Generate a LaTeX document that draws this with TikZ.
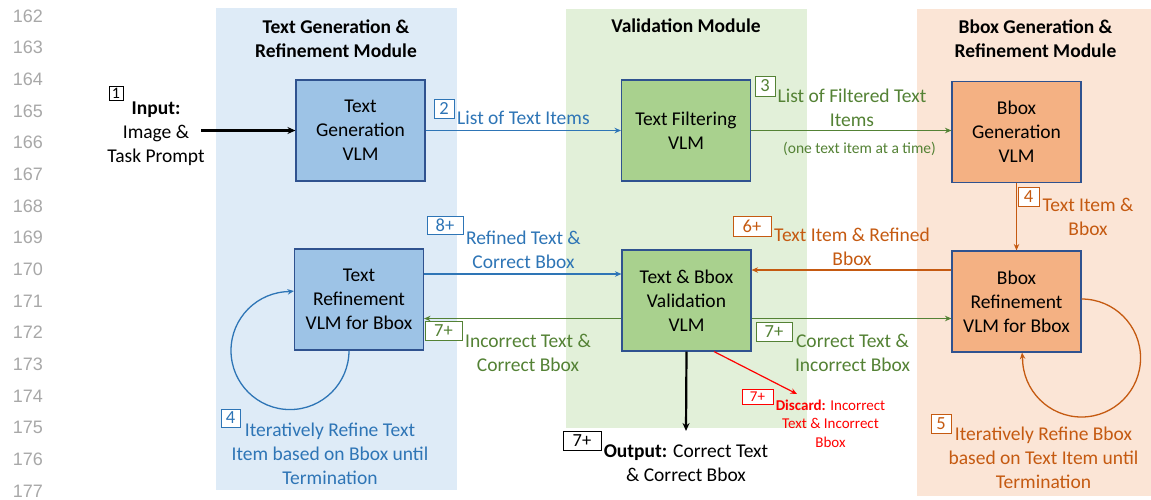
\documentclass[tikz,border=0pt]{standalone}
\usepackage{fontspec}
\setmainfont{Carlito}
\newfontfamily\lnfont{Liberation Sans}
\usetikzlibrary{arrows.meta,calc}
\definecolor{cblue}{HTML}{2E75B6}
\definecolor{cgreen}{HTML}{548235}
\definecolor{corange}{HTML}{C55A11}
\definecolor{cred}{HTML}{FF0000}
\definecolor{pblue}{HTML}{DEEBF7}
\definecolor{pgreen}{HTML}{E2F0D9}
\definecolor{porange}{HTML}{FBE5D6}
\definecolor{bblue}{HTML}{9DC3E6}
\definecolor{bgreen}{HTML}{A9D18E}
\definecolor{borange}{HTML}{F4B183}
\definecolor{bborder}{HTML}{2F528F}
\definecolor{lngray}{HTML}{A8A8A8}
\tikzset{
  big/.style={font=\fontsize{19.5}{24}\selectfont},
  vlm/.style={draw=bborder, line width=1.1pt, minimum width=129pt, minimum height=101pt, inner sep=0pt, align=center, big},
  lbl/.style={align=center, inner sep=0pt, big},
  hdr/.style={align=center, inner sep=0pt, font=\fontsize{19.5}{24}\selectfont\bfseries},
  numbox/.style={draw, fill=white, line width=0.9pt, inner sep=0pt, font=\fontsize{18.5}{20}\selectfont},
  lnum/.style={inner sep=0pt, anchor=east, text=lngray, font=\fontsize{18}{20}\selectfont\lnfont},
  arr/.style={line width=1.3pt, -{Stealth[length=6.5pt,width=5.5pt]}},
  bigarr/.style={line width=2.2pt, -{Stealth[length=8pt,width=7pt]}}
}
\begin{document}
\begin{tikzpicture}[x=1pt,y=1pt]
\useasboundingbox (0,0) rectangle (1151,-499);
\fill[white] (0,0) rectangle (1151,-499);
% panels
\fill[pblue] (216,-8) rectangle (457,-490);
\fill[pgreen] (566,-9) rectangle (807,-428);
\fill[porange] (917,-9) rectangle (1151,-496);
% line numbers
\foreach \n [count=\i from 0] in {162,...,177}
  \node[lnum] (ln\n) at (43,{-(16+31.67*\i)}) {\n};
% headers
\node[hdr] (h1) at (336,-38.5) {Text Generation \&\\Refinement Module};
\node[hdr, anchor=base] (h2) at (686,-32) {Validation Module};
\node[hdr] (h3) at (1035.5,-38.5) {Bbox Generation \&\\Refinement Module};
% boxes
\node[vlm, fill=bblue] (tg) at (360.5,-130.5) {Text\\Generation\\VLM};
\node[vlm, fill=bblue] (tr) at (359,-299.5) {Text\\Refinement\\VLM for Bbox};
\node[vlm, fill=bgreen] (tf) at (686,-130.5) {Text Filtering\\VLM};
\node[vlm, fill=bgreen] (val) at (686.5,-300.5) {Text \& Bbox\\Validation\\VLM};
\node[vlm, fill=borange] (bg) at (1016.5,-132) {Bbox\\Generation\\VLM};
\node[vlm, fill=borange] (br) at (1016.5,-301.5) {Bbox\\Refinement\\VLM for Bbox};
% input
\node[lbl] (inp) at (156,-133.5) {\textbf{Input:}\\Image \&\\Task Prompt};
\node[numbox, minimum width=14pt, minimum height=14pt, font=\fontsize{16}{17}\selectfont] (n1) at (116,-93) {1};
\coordinate (instart) at (201,-130.5);
\draw[bigarr] (instart) -- (tg.west);
% arrow 2
\draw[arr, cblue] (tg.east) -- (tf.west);
\node[numbox, draw=cblue, text=cblue, minimum width=20pt, minimum height=19pt] (n2) at (444,-108.5) {2};
\node[lbl, text=cblue, anchor=base west] (l2) at (457,-124) {List of Text Items};
% arrow 3
\draw[arr, cgreen] (tf.east) -- (tf.east -| bg.west);
\node[numbox, draw=cgreen, text=cgreen, minimum width=20pt, minimum height=20pt] (n3) at (765,-86) {3};
\node[lbl, text=cgreen] (l3) at (852,-107.5) {List of Filtered Text\\Items};
\node[inner sep=0pt, text=cgreen, anchor=base, font=\fontsize{15.5}{18}\selectfont] (l3b) at (859.5,-153) {(one text item at a time)};
% arrow 4
\draw[arr, corange] (bg.south) -- (br.north);
\node[numbox, draw=corange, text=corange, minimum width=21pt, minimum height=19pt] (n4) at (1028.5,-196.5) {4};
\node[lbl, text=corange] (l4) at (1088,-217) {Text Item \&\\Bbox};
% arrow 6+
\draw[arr, corange] ([yshift=31.5]br.west) -- ([yshift=31.5]br.west -| val.east);
\node[numbox, draw=corange, text=corange, minimum width=38pt, minimum height=20pt] (n6) at (752,-226) {6+};
\node[lbl, text=corange] (l6) at (852,-247) {Text Item \& Refined\\Bbox};
% arrow 8+
\draw[arr, cblue] ([yshift=25.5]tr.east) -- ([yshift=25.5]tr.east -| val.west);
\node[numbox, draw=cblue, text=cblue, minimum width=36pt, minimum height=18pt] (n8) at (445,-225) {8+};
\node[lbl, text=cblue] (l8) at (523.5,-250) {Refined Text \&\\Correct Bbox};
% arrow 7+ left
\draw[arr, cgreen] ([yshift=-18]val.west) -- ([yshift=-18]val.west -| tr.east);
\node[numbox, draw=cgreen, text=cgreen, minimum width=37pt, minimum height=19pt] (n7a) at (443.5,-330.5) {7+};
\node[lbl, text=cgreen] (l7a) at (528,-353) {Incorrect Text \&\\Correct Bbox};
% arrow 7+ right
\draw[arr, cgreen] ([yshift=-18]val.east) -- ([yshift=-18]val.east -| br.west);
\node[numbox, draw=cgreen, text=cgreen, minimum width=36pt, minimum height=19pt] (n7b) at (774,-331.5) {7+};
\node[lbl, text=cgreen] (l7b) at (852.5,-353) {Correct Text \&\\Incorrect Bbox};
% output
\coordinate (outtip) at (686,-431);
\draw[bigarr] (val.south) -- (outtip);
\node[numbox, minimum width=38pt, minimum height=19pt] (n7c) at (582,-440.5) {7+};
\node[lbl] (out) at (686,-463.5) {\textbf{Output:} Correct Text\\\& Correct Bbox};
% discard
\coordinate (disc) at (797,-394);
\draw[line width=1.2pt, cred, -{Stealth[length=6.5pt,width=5.5pt]}] ([xshift=27.5]val.south) -- (disc);
\node[numbox, draw=cred, text=cred, minimum width=31pt, minimum height=15pt, font=\fontsize{15}{16}\selectfont] (n7d) at (757.5,-396.5) {7+};
\node[inner sep=0pt, align=center, text=cred, font=\fontsize{15}{18.5}\selectfont] (dis) at (830.5,-423.5) {\textbf{Discard:} Incorrect\\Text \& Incorrect\\Bbox};
% loops
\draw[arr, cblue] ([xshift=-10]tr.south) arc[start angle=0, end angle=-270, radius=59] -- ([yshift=8.5]tr.west);
\node[numbox, draw=cblue, text=cblue, minimum width=19pt, minimum height=18pt] (n4b) at (230.5,-418) {4};
\node[lbl, text=cblue] (lloop1) at (330,-454) {Iteratively Refine Text\\Item based on Bbox until\\Termination};
\draw[arr, corange] ([yshift=2.5]br.east) arc[start angle=90, end angle=-180, radius=59] -- ([xshift=5.5]br.south);
\node[numbox, draw=corange, text=corange, minimum width=20pt, minimum height=19pt] (n5) at (941,-423.5) {5};
\node[lbl, text=corange] (lloop2) at (1043.5,-457.5) {Iteratively Refine Bbox\\based on Text Item until\\Termination};
\end{tikzpicture}
\end{document}
